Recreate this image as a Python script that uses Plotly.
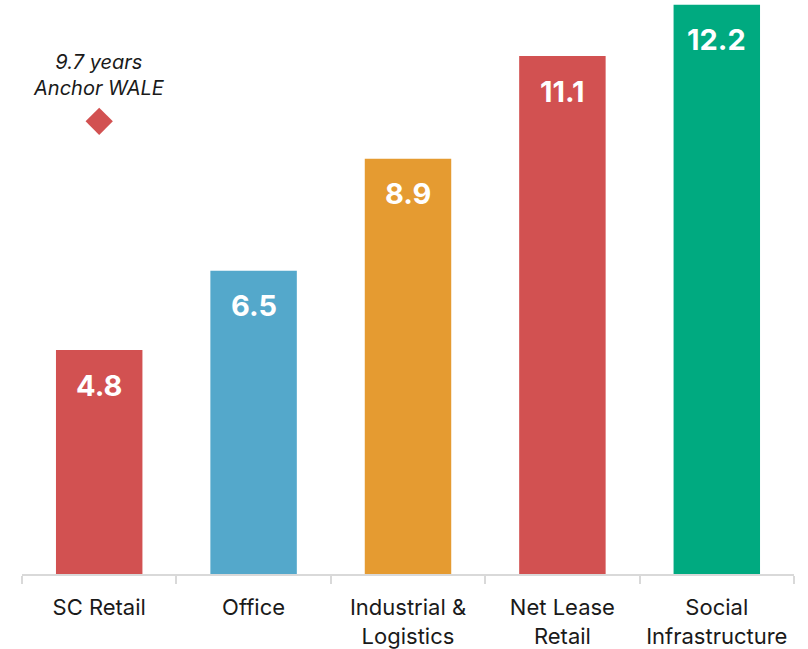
import plotly.graph_objects as go

categories = ["SC Retail", "Office", "Industrial &<br>Logistics", "Net Lease<br>Retail", "Social<br>Infrastructure"]
values = [4.8, 6.5, 8.9, 11.1, 12.2]
labels = ["4.8", "6.5", "8.9", "11.1", "12.2"]
colors = ["#D25151", "#54A8CB", "#E59B31", "#D25151", "#00AA80"]
anchor_wale = 9.7
anchor_text = "9.7 years<br>Anchor WALE"

FONT = "Inter, Liberation Sans, Arial, sans-serif"

fig = go.Figure()
fig.add_trace(go.Bar(
    x=categories, y=values, marker=dict(color=colors, line=dict(width=0)),
    width=0.56, hoverinfo="skip", showlegend=False,
))
fig.add_trace(go.Scatter(
    x=[categories[0]], y=[anchor_wale], mode="markers",
    marker=dict(symbol="diamond", size=21, color="#D25151"),
    showlegend=False, hoverinfo="skip",
))

for c, v, t in zip(categories, values, labels):
    fig.add_annotation(x=c, y=v, text=f"<b>{t}</b>", showarrow=False,
                       yshift=-35, font=dict(family=FONT, size=29, color="white"))

fig.add_annotation(x=categories[0], y=anchor_wale, text=f"<i>{anchor_text}</i>",
                   showarrow=False, yshift=46, font=dict(family=FONT, size=20, color="#1a1a1a"))

fig.update_layout(
    width=808, height=649,
    margin=dict(l=22, r=14, t=0, b=75),
    paper_bgcolor="white", plot_bgcolor="white",
    bargap=0.44,
    font=dict(family=FONT, size=22, color="#1a1a1a"),
)
fig.update_xaxes(
    type="category", range=[-0.5, 4.5],
    showline=True, linecolor="#D9D9D9", linewidth=2,
    ticks="outside", tickson="boundaries", ticklen=8, tickcolor="#D9D9D9", tickwidth=2,
    tickfont=dict(family=FONT, size=22, color="#1a1a1a"),
    ticklabelstandoff=13,
    showgrid=False, automargin=False,
)
fig.update_yaxes(range=[0, 12.3], visible=False, showgrid=False, zeroline=False)

fig.write_html("out.html", config={"displayModeBar": False},
               post_script="document.body.style.margin='0';document.body.style.overflow='hidden';")
